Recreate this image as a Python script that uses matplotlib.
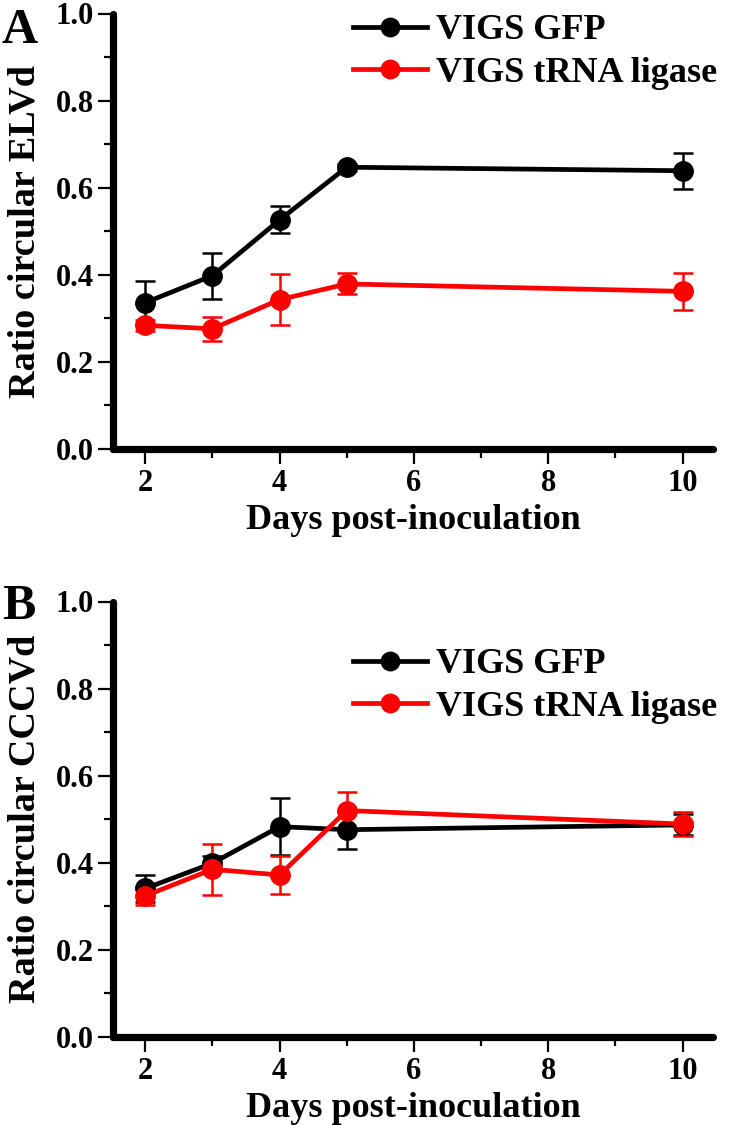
import matplotlib
matplotlib.use("Agg")
import matplotlib.pyplot as plt
from matplotlib.ticker import MultipleLocator

plt.rcParams['font.family'] = ['Liberation Serif', 'DejaVu Serif']
plt.rcParams['font.weight'] = 'bold'

days = [2, 3, 4, 5, 10]
series_names = ["VIGS GFP", "VIGS tRNA ligase"]
elvd_gfp = [0.336, 0.398, 0.526, 0.647, 0.639]
elvd_gfp_err = [0.050, 0.053, 0.031, 0.008, 0.041]
elvd_lig = [0.284, 0.276, 0.343, 0.379, 0.362]
elvd_lig_err = [0.012, 0.027, 0.059, 0.024, 0.042]
cccvd_gfp = [0.341, 0.399, 0.483, 0.476, 0.487]
cccvd_gfp_err = [0.030, 0.017, 0.066, 0.044, 0.024]
cccvd_lig = [0.324, 0.385, 0.372, 0.520, 0.489]
cccvd_lig_err = [0.020, 0.058, 0.043, 0.042, 0.028]
xticks = [2, 4, 6, 8, 10]
yticks = [0.0, 0.2, 0.4, 0.6, 0.8, 1.0]
panel_labels = ["A", "B"]
ylabels = ["Ratio circular ELVd", "Ratio circular CCCVd"]
xlabel = "Days post-inoculation"

W, H = 750, 1125
fig = plt.figure(figsize=(7.5, 11.25), dpi=100)

ax_left = 113 / W
ax_w = 600.5 / W
ax_h = 435.5 / H
bottoms = [1 - 449 / H, 1 - 1037 / H]
legend_tops = [0.999, 0.893]
panel_label_tops = [1 - 8 / H, 1 - 584 / H]

data = [
    (elvd_gfp, elvd_gfp_err, elvd_lig, elvd_lig_err),
    (cccvd_gfp, cccvd_gfp_err, cccvd_lig, cccvd_lig_err),
]
colors = ["#000000", "#ff0000"]

for i in range(2):
    ax = fig.add_axes([ax_left, bottoms[i], ax_w, ax_h])
    g, ge, l, le = data[i]
    handles = []
    for vals, errs, c, name in [(g, ge, colors[0], series_names[0]),
                                (l, le, colors[1], series_names[1])]:
        cont = ax.errorbar(days, vals, yerr=errs, color=c, lw=3.4, marker='o',
                           ms=14, elinewidth=1.8, capsize=7, capthick=1.8,
                           label=name, clip_on=False)
        handles.append(cont[0])
    ax.set_xlim(1.52, 10.46)
    ax.set_ylim(0, 1.0)
    ax.set_xticks(xticks)
    ax.set_yticks(yticks)
    ax.set_yticklabels([f"{v:.1f}" for v in yticks])
    ax.xaxis.set_minor_locator(MultipleLocator(1))
    ax.yaxis.set_minor_locator(MultipleLocator(0.1))
    for s in ['top', 'right']:
        ax.spines[s].set_visible(False)
    for s in ['left', 'bottom']:
        ax.spines[s].set_linewidth(5.2)
        ax.spines[s].set_capstyle('round')
    ax.tick_params(which='major', direction='out', length=10.5, width=1.6,
                   labelsize=22)
    ax.tick_params(which='minor', direction='out', length=6.5, width=1.6)
    ax.tick_params(axis='x', which='major', pad=4)
    ax.tick_params(axis='y', which='major', pad=3)
    ax.set_ylabel(ylabels[i], fontsize=27.5, fontweight='bold')
    ax.yaxis.set_label_coords(-0.118, 0.5)
    ax.set_xlabel(xlabel, fontsize=26, fontweight='bold', labelpad=4)
    ax.legend(handles=handles, labels=series_names, loc='upper left',
              bbox_to_anchor=(0.40, legend_tops[i]),
              frameon=False, fontsize=26, borderpad=0, borderaxespad=0,
              handlelength=2.05, handletextpad=0.25, labelspacing=0.25,
              markerscale=0.95)
    fig.text(2 / W, panel_label_tops[i], panel_labels[i], fontsize=36,
             fontweight='bold', ha='left', va='top')

fig.savefig("out.png", dpi=100)
